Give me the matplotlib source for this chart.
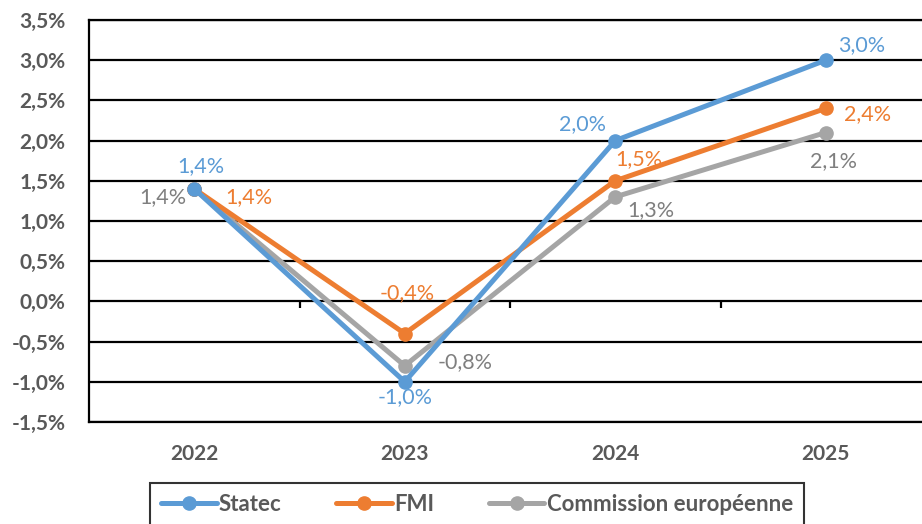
import matplotlib
matplotlib.use("Agg")
import matplotlib.pyplot as plt

# data
years = ["2022", "2023", "2024", "2025"]
statec = [1.4, -1.0, 2.0, 3.0]
fmi = [1.4, -0.4, 1.5, 2.4]
commission = [1.4, -0.8, 1.3, 2.1]
series_names = ["Statec", "FMI", "Commission européenne"]
yticks = [-1.5, -1.0, -0.5, 0.0, 0.5, 1.0, 1.5, 2.0, 2.5, 3.0, 3.5]

plt.rcParams["font.family"] = ["Lato", "DejaVu Sans"]

colors = ["#5B9BD5", "#ED7D31", "#A5A5A5"]
label_colors = ["#5B9BD5", "#ED7D31", "#7F7F7F"]
# label offsets in pixels (dx, dy) per point
offsets = [
    [(7, 23), (0, -15), (-33, 17), (36, 15)],
    [(55, -8), (2, 40), (24, 22), (42, -6)],
    [(-31, -8), (60, 4), (36, -13), (8, -29)],
]

def fmt(v):
    return ("%.1f%%" % v).replace(".", ",")

fig = plt.figure(figsize=(9.22, 5.24), dpi=100)
ax = fig.add_axes([89 / 922, 1 - 422 / 524, (931 - 89) / 922, (422 - 20) / 524])

x = list(range(len(years)))
for i, vals in enumerate([statec, fmi, commission]):
    ax.plot(x, vals, color=colors[i], lw=3.6, marker="o", ms=9.5,
            label=series_names[i], zorder=5 - i * 0.1 if i else 5.2,
            solid_capstyle="round")
    for j, v in enumerate(vals):
        dx, dy = offsets[i][j]
        ax.annotate(fmt(v), (x[j], v), xytext=(dx * 0.72, dy * 0.72),
                    textcoords="offset points", ha="center", va="center",
                    color=label_colors[i], fontsize=15.5, zorder=6)

ax.set_xlim(-0.5, len(years) - 0.5)
ax.set_ylim(yticks[0], yticks[-1])
ax.set_yticks(yticks)
ax.set_yticklabels([fmt(t) for t in yticks])
ax.set_xticks(x)
ax.set_xticklabels(years)
ax.grid(axis="y", color="black", lw=1.6)
ax.set_axisbelow(True)
ax.tick_params(axis="both", length=0, labelsize=15, labelcolor="#595959")
ax.tick_params(axis="y", pad=17)
ax.tick_params(axis="x", pad=16)
for lab in ax.get_xticklabels() + ax.get_yticklabels():
    lab.set_fontweight("bold")
for s in ["left", "top", "bottom"]:
    ax.spines[s].set_color("black")
    ax.spines[s].set_linewidth(1.6)
ax.spines["right"].set_visible(False)

# small ticks on the zero line between categories
sec = ax.secondary_xaxis((0 - yticks[0]) / (yticks[-1] - yticks[0]))
sec.set_xticks([0.5, 1.5, 2.5])
sec.set_xticklabels([])
sec.tick_params(length=5, width=1.6, color="black", direction="out")
sec.spines["bottom"].set_visible(False)

leg = fig.legend(loc="upper left",
                 bbox_to_anchor=(150 / 922, 0, (804 - 150) / 922, 1 - 483 / 524),
                 mode="expand", borderaxespad=0,
                 ncol=3, frameon=True, fancybox=False, edgecolor="black",
                 fontsize=16, handlelength=2.5, handletextpad=0.1,
                 columnspacing=2.0, borderpad=0.5)
leg.get_frame().set_linewidth(1.5)
for t in leg.get_texts():
    t.set_color("#595959")
    t.set_fontweight("bold")

fig.savefig("out.png", dpi=100)
